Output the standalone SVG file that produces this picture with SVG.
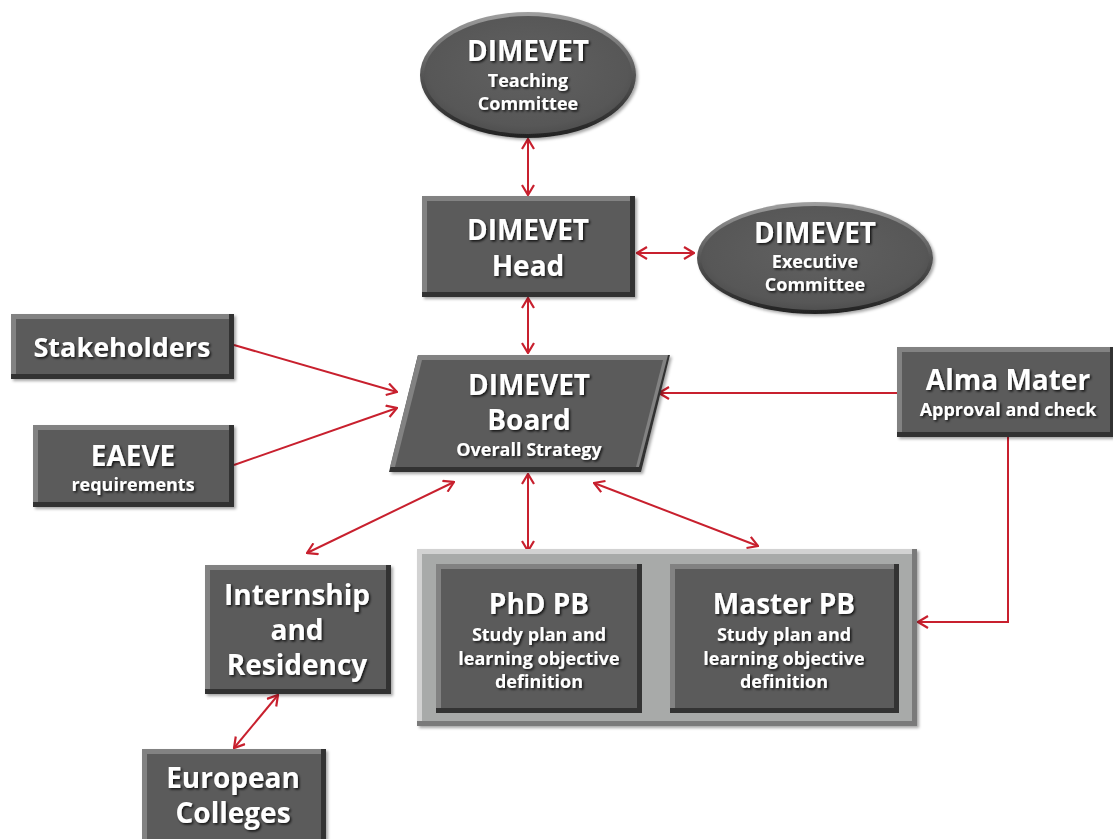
<svg xmlns="http://www.w3.org/2000/svg" width="1113" height="839" viewBox="0 0 1113 839">
<style>
.t{fill:#fff;font-family:"Open Sans","Noto Sans",sans-serif;font-weight:bold;text-anchor:middle;filter:url(#ts)}
.big{font-size:28px}
.mid{font-size:27px}
.sm{font-size:18px}
.edge{fill:none;stroke:#C8202E;stroke-width:2;marker-end:url(#ah)}
.bi{marker-start:url(#ah)}
.dk{fill:#333}
.lt{fill:#828282}
.fc{fill:#5b5b5b}
</style>
<defs>
<filter id="ts" x="-10%" y="-20%" width="130%" height="150%"><feDropShadow dx="1.5" dy="1.5" stdDeviation="0.8" flood-color="#000" flood-opacity="0.8"/></filter>
<filter id="sh" x="-10%" y="-10%" width="130%" height="130%"><feDropShadow dx="2" dy="2" stdDeviation="1.5" flood-color="#000" flood-opacity="0.35"/></filter>
<marker id="ah" markerUnits="userSpaceOnUse" viewBox="0 0 12 14" markerWidth="12" markerHeight="14" refX="11" refY="7" orient="auto-start-reverse"><path d="M1,1 L11,7 L1,13" fill="none" stroke="#C8202E" stroke-width="2.2"/></marker>
<linearGradient id="eg" x1="0" y1="0" x2="0" y2="1"><stop offset="0" stop-color="#a0a0a0"/><stop offset="0.5" stop-color="#555"/><stop offset="1" stop-color="#222"/></linearGradient>
<radialGradient id="ei" cx="0.5" cy="0.45" r="0.6"><stop offset="0" stop-color="#616161"/><stop offset="0.8" stop-color="#575757"/><stop offset="1" stop-color="#4a4a4a"/></radialGradient>
</defs>

<g id="connectors">
<line class="edge bi" x1="528" y1="139" x2="528" y2="195"/>
<line class="edge bi" x1="637" y1="253" x2="694" y2="253"/>
<line class="edge bi" x1="528" y1="298" x2="528" y2="353"/>
<line class="edge" x1="234" y1="345" x2="397" y2="392"/>
<line class="edge" x1="234" y1="465" x2="397" y2="408"/>
<line class="edge" x1="897" y1="393" x2="659" y2="393"/>
<line class="edge bi" x1="454" y1="482" x2="307" y2="553"/>
<line class="edge bi" x1="528" y1="474" x2="528" y2="551"/>
<line class="edge bi" x1="594" y1="483" x2="758" y2="546"/>
<polyline class="edge" points="1008,437 1008,622 918,622"/>
<line class="edge bi" x1="278" y1="695" x2="234" y2="748"/>
</g>

<g id="teaching">
<ellipse cx="528" cy="75" rx="108" ry="63" fill="url(#eg)" filter="url(#sh)"/>
<ellipse cx="528" cy="75" rx="104" ry="59" fill="url(#ei)"/>
<text class="t big" x="528" y="61">DIMEVET</text>
<text class="t sm" x="528" y="87">Teaching</text>
<text class="t sm" x="528" y="110">Committee</text>
</g>

<g id="head">
<rect class="dk" x="422" y="196" width="213" height="101" filter="url(#sh)"/>
<rect class="lt" x="422" y="196" width="208" height="96"/>
<rect class="fc" x="427" y="201" width="203" height="91"/>
<text class="t big" x="528" y="240">DIMEVET</text>
<text class="t big" x="528" y="276">Head</text>
</g>

<g id="executive">
<ellipse cx="815" cy="258" rx="118" ry="56" fill="url(#eg)" filter="url(#sh)"/>
<ellipse cx="815" cy="258" rx="114" ry="52" fill="url(#ei)"/>
<text class="t big" x="815" y="243">DIMEVET</text>
<text class="t sm" x="815" y="268">Executive</text>
<text class="t sm" x="815" y="291">Committee</text>
</g>

<g id="board">
<polygon class="dk" points="418,355 670,355 641,472 389,472" filter="url(#sh)"/>
<polygon class="lt" points="418,355 668,355 639,467 390,467"/>
<polygon class="fc" points="422,360 663,360 636,467 395,467"/>
<text class="t big" x="529" y="395">DIMEVET</text>
<text class="t big" x="529" y="430">Board</text>
<text class="t sm" x="529" y="456">Overall Strategy</text>
</g>

<g id="stakeholders">
<rect class="dk" x="11" y="314" width="223" height="65" filter="url(#sh)"/>
<rect class="lt" x="11" y="314" width="218" height="60"/>
<rect class="fc" x="16" y="319" width="213" height="55"/>
<text class="t mid" x="122" y="357">Stakeholders</text>
</g>

<g id="eaeve">
<rect class="dk" x="33" y="425" width="201" height="82" filter="url(#sh)"/>
<rect class="lt" x="33" y="425" width="196" height="77"/>
<rect class="fc" x="38" y="430" width="191" height="72"/>
<text class="t big" x="133" y="466">EAEVE</text>
<text class="t sm" x="133" y="491">requirements</text>
</g>

<g id="almamater">
<rect class="dk" x="897" y="347" width="216" height="90" filter="url(#sh)"/>
<rect class="lt" x="897" y="347" width="213" height="85"/>
<rect class="fc" x="902" y="352" width="208" height="80"/>
<text class="t big" x="1008" y="390">Alma Mater</text>
<text class="t sm" x="1008" y="416">Approval and check</text>
</g>

<g id="internship">
<rect class="dk" x="205" y="565" width="186" height="129" filter="url(#sh)"/>
<rect class="lt" x="205" y="565" width="181" height="124"/>
<rect class="fc" x="210" y="570" width="176" height="119"/>
<text class="t big" x="297" y="605">Internship</text>
<text class="t big" x="297" y="640">and</text>
<text class="t big" x="297" y="675">Residency</text>
</g>

<g id="european">
<rect class="dk" x="142" y="749" width="184" height="95" filter="url(#sh)"/>
<rect class="lt" x="142" y="749" width="179" height="95"/>
<rect class="fc" x="147" y="754" width="174" height="90"/>
<text class="t big" x="233" y="788">European</text>
<text class="t big" x="233" y="823">Colleges</text>
</g>

<g id="programme-boards">
<rect x="417" y="549" width="500" height="177" fill="#7a7a7a" filter="url(#sh)"/>
<rect x="417" y="549" width="495" height="172" fill="#d2d2d2"/>
<rect x="422" y="554" width="490" height="167" fill="#a8aaa9"/>
</g>

<g id="phd">
<rect class="dk" x="436" y="564" width="206" height="149"/>
<rect class="lt" x="436" y="564" width="201" height="144"/>
<rect class="fc" x="441" y="569" width="196" height="139"/>
<text class="t big" x="539" y="614">PhD PB</text>
<text class="t sm" x="539" y="641">Study plan and</text>
<text class="t sm" x="539" y="665">learning objective</text>
<text class="t sm" x="539" y="688">definition</text>
</g>

<g id="master">
<rect class="dk" x="670" y="564" width="229" height="149"/>
<rect class="lt" x="670" y="564" width="224" height="144"/>
<rect class="fc" x="675" y="569" width="219" height="139"/>
<text class="t big" x="784" y="614">Master PB</text>
<text class="t sm" x="784" y="641">Study plan and</text>
<text class="t sm" x="784" y="665">learning objective</text>
<text class="t sm" x="784" y="688">definition</text>
</g>
</svg>
